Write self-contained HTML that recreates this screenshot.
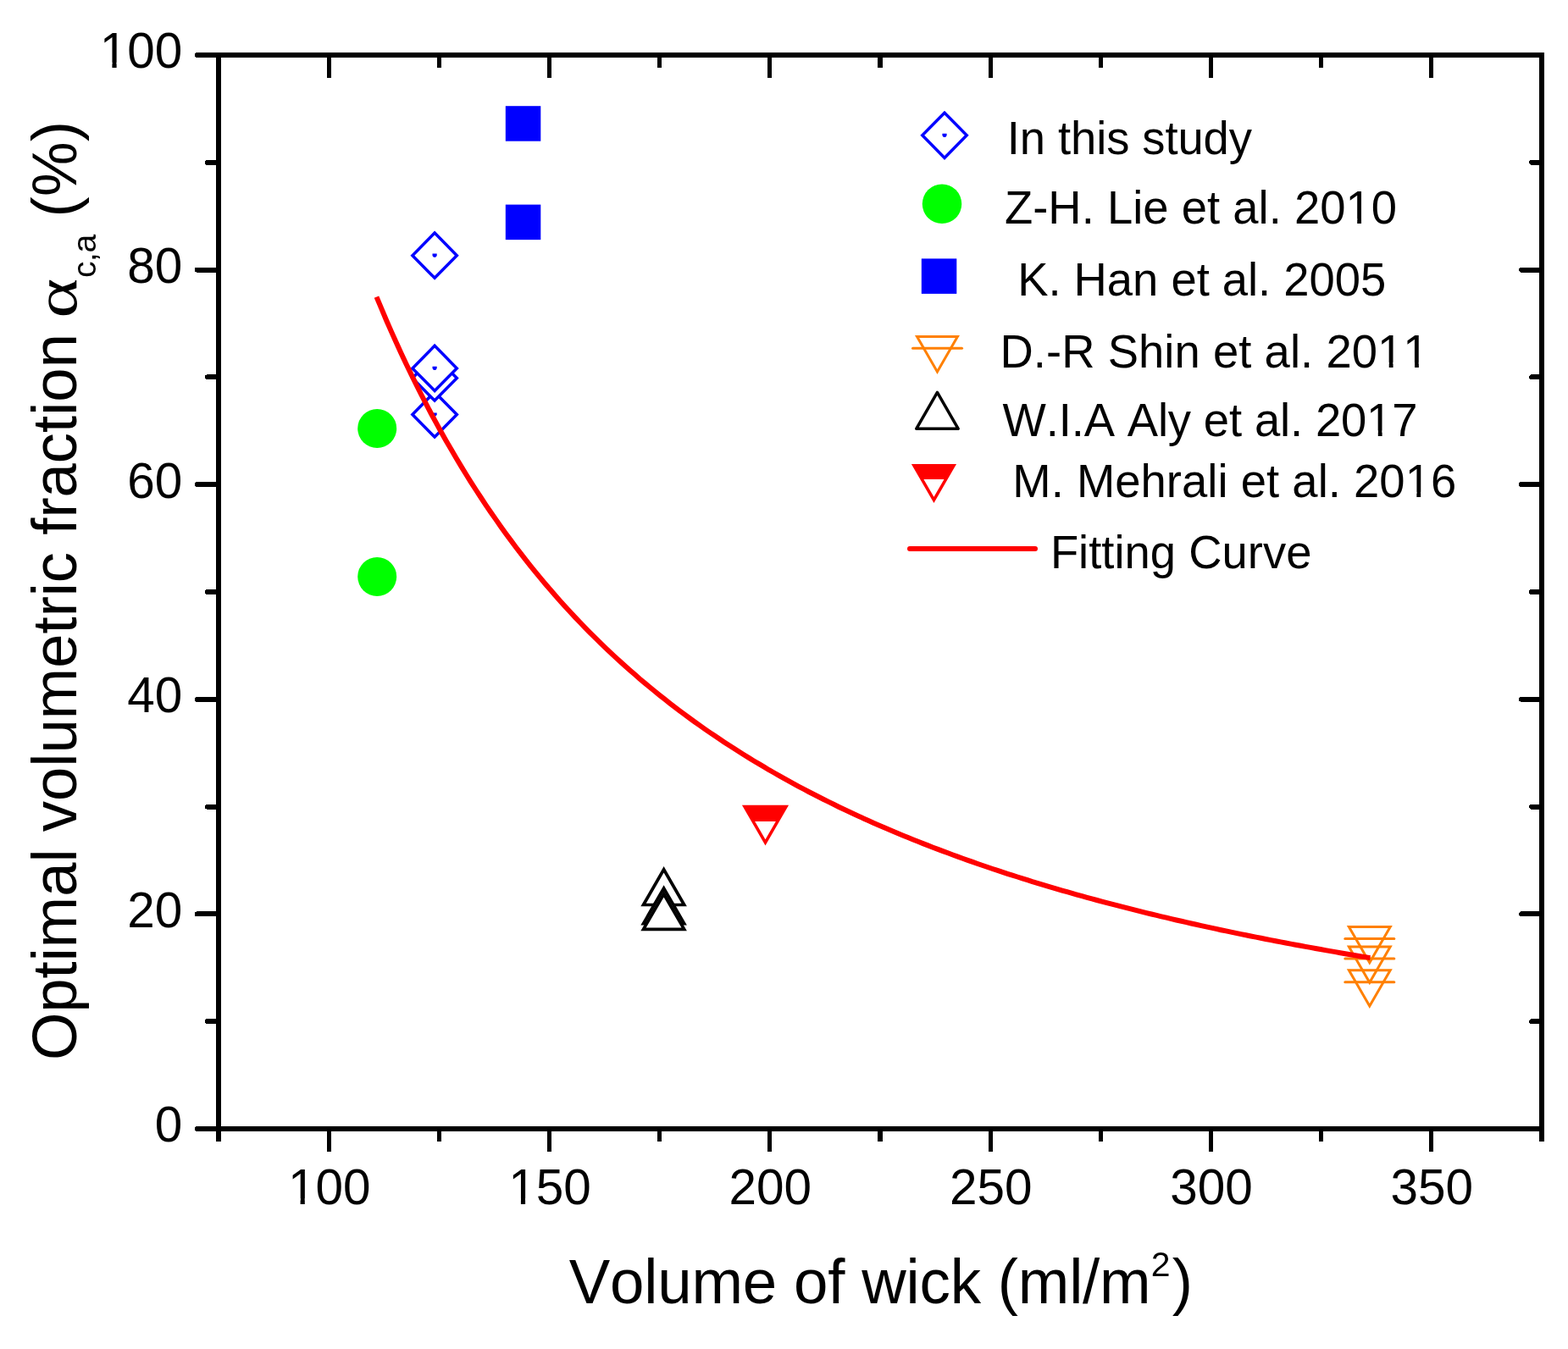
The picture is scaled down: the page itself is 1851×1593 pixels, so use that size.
<!DOCTYPE html>
<html><head><meta charset="utf-8"><title>Optimal volumetric fraction vs volume of wick</title>
<style>html,body{margin:0;padding:0;background:#fff;overflow:hidden}svg{display:block}text{font-family:"Liberation Sans",Arial,sans-serif;fill:#000;font-kerning:none}.sym{font-family:"Liberation Serif","Times New Roman",serif}</style></head><body>
<svg width="1851" height="1593" viewBox="0 0 1851 1593">
<rect width="1851" height="1593" fill="#fff"/>
<path d="M258.0 1333.0H232.8M258.0 1206.2H244.9M258.0 1079.4H232.8M258.0 952.6H244.9M258.0 825.8H232.8M258.0 699.0H244.9M258.0 572.2H232.8M258.0 445.4H244.9M258.0 318.6H232.8M258.0 191.8H244.9M258.0 65.0H232.8M1820.0 1206.2H1808.1M1820.0 1079.4H1796.0M1820.0 952.6H1808.1M1820.0 825.8H1796.0M1820.0 699.0H1808.1M1820.0 572.2H1796.0M1820.0 445.4H1808.1M1820.0 318.6H1796.0M1820.0 191.8H1808.1" stroke="#000" stroke-width="6" stroke-linecap="round" fill="none" shape-rendering="crispEdges"/>
<path d="M258.0 1333.0V1347.9M388.2 1333.0V1360.0M518.3 1333.0V1347.9M648.5 1333.0V1360.0M778.7 1333.0V1347.9M908.8 1333.0V1360.0M1039.0 1333.0V1347.9M1169.2 1333.0V1360.0M1299.3 1333.0V1347.9M1429.5 1333.0V1360.0M1559.7 1333.0V1347.9M1689.8 1333.0V1360.0M1820.0 1333.0V1347.9M388.2 65.0V91.8M518.3 65.0V80.0M648.5 65.0V91.8M778.7 65.0V80.0M908.8 65.0V91.8M1039.0 65.0V80.0M1169.2 65.0V91.8M1299.3 65.0V80.0M1429.5 65.0V91.8M1559.7 65.0V80.0M1689.8 65.0V91.8" stroke="#000" stroke-width="5.2" stroke-linecap="butt" fill="none" shape-rendering="crispEdges"/>
<rect x="258.0" y="65.0" width="1562.0" height="1268.0" fill="none" stroke="#000" stroke-width="6.0" shape-rendering="crispEdges"/>
<text transform="translate(215.3 1348.3) scale(1 1.025)" font-size="58.5" text-anchor="end">0</text>
<text transform="translate(215.3 1094.7) scale(1 1.025)" font-size="58.5" text-anchor="end">20</text>
<text transform="translate(215.3 841.1) scale(1 1.025)" font-size="58.5" text-anchor="end">40</text>
<text transform="translate(215.3 587.5) scale(1 1.025)" font-size="58.5" text-anchor="end">60</text>
<text transform="translate(215.3 333.9) scale(1 1.025)" font-size="58.5" text-anchor="end">80</text>
<g transform="translate(215.3 80.3) scale(1 1.025)"><text id="t1" font-size="58.5" text-anchor="end">100</text><g fill="#fff"><rect x="-94.33" y="-6.37" width="11.45" height="7.57"/><rect x="-77.70" y="-6.37" width="11.00" height="7.57"/></g></g>
<g transform="translate(388.7 1421.6) scale(1 1.025)"><text id="t2" font-size="58.5" text-anchor="middle">100</text><g fill="#fff"><rect x="-45.54" y="-6.37" width="11.45" height="7.57"/><rect x="-28.91" y="-6.37" width="11.00" height="7.57"/></g></g>
<g transform="translate(649.0 1421.6) scale(1 1.025)"><text id="t3" font-size="58.5" text-anchor="middle">150</text><g fill="#fff"><rect x="-45.54" y="-6.37" width="11.45" height="7.57"/><rect x="-28.91" y="-6.37" width="11.00" height="7.57"/></g></g>
<text transform="translate(909.3 1421.6) scale(1 1.025)" font-size="58.5" text-anchor="middle">200</text>
<text transform="translate(1169.7 1421.6) scale(1 1.025)" font-size="58.5" text-anchor="middle">250</text>
<text transform="translate(1430.0 1421.6) scale(1 1.025)" font-size="58.5" text-anchor="middle">300</text>
<text transform="translate(1690.3 1421.6) scale(1 1.025)" font-size="58.5" text-anchor="middle">350</text>
<text transform="translate(671.80 1538.90) scale(1 1.01)" font-size="72.7" textLength="686.84" lengthAdjust="spacing">Volume of wick (ml/m</text>
<text transform="translate(1358.70 1506.70) scale(1 1.01)" font-size="41">2</text>
<text transform="translate(1383.70 1538.90) scale(1 1.01)" font-size="72.7">)</text>
<text transform="rotate(-90) translate(-1252.10 90.00) scale(1 1.01)" font-size="72.5" textLength="858.09" lengthAdjust="spacing">Optimal volumetric fraction</text>
<text class="sym" transform="rotate(-90) translate(0 90.3) scale(1.2118 0.9500)" x="-310.07" y="0" font-size="74">α</text>
<text transform="rotate(-90) translate(-327.90 112.90) scale(1 1.01)" font-size="39" textLength="51.03" lengthAdjust="spacing">c,a</text>
<text transform="rotate(-90) translate(-256.60 90.00) scale(1 1.01)" font-size="72.5" textLength="113.47" lengthAdjust="spacing">(%)</text>
<path d="M513.1 275.1L539.3 301.7L513.1 328.3L486.9 301.7Z" fill="#fff" stroke="#0000ff" stroke-width="3.5"/><path d="M510.5 299.6H515.7V301.9L514.3 303.8H511.9L510.5 301.9Z" fill="#0000ff"/>
<path d="M513.1 462.9L539.3 489.5L513.1 516.1L486.9 489.5Z" fill="#fff" stroke="#0000ff" stroke-width="3.5"/><path d="M510.5 487.4H515.7V489.7L514.3 491.6H511.9L510.5 489.7Z" fill="#0000ff"/>
<path d="M513.1 419.9L539.3 446.5L513.1 473.1L486.9 446.5Z" fill="#fff" stroke="#0000ff" stroke-width="3.5"/><path d="M510.5 444.4H515.7V446.7L514.3 448.6H511.9L510.5 446.7Z" fill="#0000ff"/>
<path d="M513.1 408.3L539.3 434.9L513.1 461.5L486.9 434.9Z" fill="#fff" stroke="#0000ff" stroke-width="3.5"/><path d="M510.5 432.8H515.7V435.1L514.3 437.0H511.9L510.5 435.1Z" fill="#0000ff"/>
<circle cx="445.2" cy="505.9" r="23.0" fill="#00ff00"/>
<circle cx="445.2" cy="680.9" r="23.0" fill="#00ff00"/>
<rect x="596.8" y="125.2" width="41.5" height="41.5" fill="#0000ff"/>
<rect x="596.8" y="241.6" width="41.5" height="41.5" fill="#0000ff"/>
<path d="M783.60 1026.80L807.68 1068.50L759.52 1068.50Z" fill="#fff" stroke="#000" stroke-width="3.7" stroke-linejoin="miter"/>
<path d="M783.60 1048.90L807.68 1090.60L759.52 1090.60Z" fill="#fff" stroke="#000" stroke-width="3.7" stroke-linejoin="miter"/>
<path d="M783.60 1055.70L807.68 1097.40L759.52 1097.40Z" fill="#fff" stroke="#000" stroke-width="3.7" stroke-linejoin="miter"/>
<clipPath id="rc1"><rect x="863.5" y="926.7" width="80" height="43.3"/></clipPath><path d="M879.05 952.58L927.95 952.58L903.50 994.93Z" fill="#ff0000" clip-path="url(#rc1)"/><path d="M879.05 952.58L927.95 952.58L903.50 994.93Z" fill="none" stroke="#ff0000" stroke-width="3.6"/>
<path d="M1592.40 1094.41L1641.20 1094.41L1616.80 1136.67Z" fill="none" stroke="#ff8000" stroke-width="3.0"/><path d="M1587.8 1108.5H1645.8" stroke="#ff8000" stroke-width="3" stroke-linecap="round"/>
<path d="M1592.40 1117.91L1641.20 1117.91L1616.80 1160.17Z" fill="none" stroke="#ff8000" stroke-width="3.0"/><path d="M1587.8 1132.0H1645.8" stroke="#ff8000" stroke-width="3" stroke-linecap="round"/>
<path d="M1592.40 1145.71L1641.20 1145.71L1616.80 1187.97Z" fill="none" stroke="#ff8000" stroke-width="3.0"/><path d="M1587.8 1159.8H1645.8" stroke="#ff8000" stroke-width="3" stroke-linecap="round"/>
<polyline points="444.5,350.7 450.4,364.7 456.2,378.5 462.1,391.9 468.0,404.9 473.8,417.7 479.7,430.2 485.6,442.4 491.4,454.3 497.3,466.0 503.2,477.3 509.0,488.5 514.9,499.4 520.7,510.0 526.6,520.4 532.5,530.6 538.3,540.6 544.2,550.4 550.1,560.0 555.9,569.3 561.8,578.5 567.7,587.5 573.5,596.3 579.4,605.0 585.3,613.4 591.1,621.7 597.0,629.9 602.9,637.9 608.7,645.7 614.6,653.4 620.4,660.9 626.3,668.3 632.2,675.6 638.0,682.7 643.9,689.7 649.8,696.5 655.6,703.3 661.5,709.9 667.4,716.4 673.2,722.8 679.1,729.1 685.0,735.3 690.8,741.3 696.7,747.3 702.6,753.1 708.4,758.9 714.3,764.6 720.1,770.1 726.0,775.6 731.9,781.0 737.7,786.3 743.6,791.5 749.5,796.6 755.3,801.7 761.2,806.6 767.1,811.5 772.9,816.3 778.8,821.1 784.7,825.7 790.5,830.3 796.4,834.8 802.3,839.3 808.1,843.7 814.0,848.0 819.8,852.2 825.7,856.4 831.6,860.6 837.4,864.6 843.3,868.6 849.2,872.6 855.0,876.5 860.9,880.3 866.8,884.1 872.6,887.8 878.5,891.5 884.4,895.1 890.2,898.7 896.1,902.2 902.0,905.7 907.8,909.2 913.7,912.5 919.6,915.9 925.4,919.2 931.3,922.4 937.1,925.6 943.0,928.8 948.9,931.9 954.7,935.0 960.6,938.0 966.5,941.0 972.3,944.0 978.2,946.9 984.1,949.8 989.9,952.7 995.8,955.5 1001.7,958.3 1007.5,961.0 1013.4,963.7 1019.3,966.4 1025.1,969.0 1031.0,971.7 1036.8,974.2 1042.7,976.8 1048.6,979.3 1054.4,981.8 1060.3,984.3 1066.2,986.7 1072.0,989.1 1077.9,991.5 1083.8,993.8 1089.6,996.1 1095.5,998.4 1101.4,1000.7 1107.2,1002.9 1113.1,1005.1 1119.0,1007.3 1124.8,1009.5 1130.7,1011.6 1136.5,1013.7 1142.4,1015.8 1148.3,1017.9 1154.1,1020.0 1160.0,1022.0 1165.9,1024.0 1171.7,1026.0 1177.6,1027.9 1183.5,1029.9 1189.3,1031.8 1195.2,1033.7 1201.1,1035.5 1206.9,1037.4 1212.8,1039.2 1218.7,1041.1 1224.5,1042.8 1230.4,1044.6 1236.2,1046.4 1242.1,1048.1 1248.0,1049.9 1253.8,1051.6 1259.7,1053.2 1265.6,1054.9 1271.4,1056.6 1277.3,1058.2 1283.2,1059.8 1289.0,1061.4 1294.9,1063.0 1300.8,1064.6 1306.6,1066.2 1312.5,1067.7 1318.4,1069.2 1324.2,1070.7 1330.1,1072.2 1336.0,1073.7 1341.8,1075.2 1347.7,1076.7 1353.5,1078.1 1359.4,1079.5 1365.3,1080.9 1371.1,1082.3 1377.0,1083.7 1382.9,1085.1 1388.7,1086.5 1394.6,1087.8 1400.5,1089.1 1406.3,1090.5 1412.2,1091.8 1418.1,1093.1 1423.9,1094.4 1429.8,1095.6 1435.7,1096.9 1441.5,1098.2 1447.4,1099.4 1453.2,1100.6 1459.1,1101.9 1465.0,1103.1 1470.8,1104.3 1476.7,1105.5 1482.6,1106.6 1488.4,1107.8 1494.3,1109.0 1500.2,1110.1 1506.0,1111.2 1511.9,1112.4 1517.8,1113.5 1523.6,1114.6 1529.5,1115.7 1535.4,1116.8 1541.2,1117.9 1547.1,1118.9 1552.9,1120.0 1558.8,1121.0 1564.7,1122.1 1570.5,1123.1 1576.4,1124.1 1582.3,1125.2 1588.1,1126.2 1594.0,1127.2 1599.9,1128.2 1605.7,1129.2 1611.6,1130.1 1617.5,1131.1" fill="none" stroke="#ff0000" stroke-width="6" stroke-linejoin="round"/>
<path d="M1115.0 133.2L1141.2 159.8L1115.0 186.4L1088.8 159.8Z" fill="#fff" stroke="#0000ff" stroke-width="3.5"/><path d="M1112.4 157.7H1117.6V160.0L1116.2 161.9H1113.8L1112.4 160.0Z" fill="#0000ff"/>
<circle cx="1112.0" cy="240.8" r="23.25" fill="#00ff00"/>
<rect x="1087.8" y="305.4" width="41.5" height="41.5" fill="#0000ff"/>
<path d="M1082.55 397.50L1130.35 397.50L1106.45 438.90Z" fill="none" stroke="#ff8000" stroke-width="3.0"/><path d="M1077.5 411.3H1135.5" stroke="#ff8000" stroke-width="3" stroke-linecap="round"/>
<path d="M1106.45 463.42L1131.20 506.29L1081.70 506.29Z" fill="#fff" stroke="#000" stroke-width="3.5" stroke-linejoin="round"/>
<clipPath id="rc2"><rect x="1062.5" y="523.4" width="80" height="42.6"/></clipPath><path d="M1079.00 549.86L1125.90 549.86L1102.45 590.48Z" fill="#ff0000" clip-path="url(#rc2)"/><path d="M1079.00 549.86L1125.90 549.86L1102.45 590.48Z" fill="none" stroke="#ff0000" stroke-width="3.6"/>
<path d="M1074 647.9H1222" stroke="#ff0000" stroke-width="6" stroke-linecap="round"/>
<text transform="translate(1188.80 181.50) scale(1 1.01)" font-size="54.4" textLength="289.13" lengthAdjust="spacing">In this study</text>
<g transform="translate(1186.00 264.30) scale(1 1.01)"><text id="t4" font-size="54.4" textLength="463.06" lengthAdjust="spacing">Z-H. Lie et al. 2010</text><g fill="#fff"><rect x="405.47" y="-6.06" width="10.74" height="7.26"/><rect x="421.02" y="-6.06" width="10.31" height="7.26"/></g></g>
<text transform="translate(1201.20 349.00) scale(1 1.01)" font-size="54.4" textLength="435.02" lengthAdjust="spacing">K. Han et al. 2005</text>
<g transform="translate(1180.50 434.00) scale(1 1.01)"><text id="t5" font-size="54.4" textLength="506.12" lengthAdjust="spacing">D.-R Shin et al. 2011</text><g fill="#fff"><rect x="448.50" y="-6.06" width="10.74" height="7.26"/><rect x="464.04" y="-6.06" width="10.31" height="7.26"/><rect x="478.81" y="-6.06" width="10.74" height="7.26"/><rect x="494.35" y="-6.06" width="10.31" height="7.26"/></g></g>
<g transform="translate(1183.60 514.50) scale(1 1.01)"><text id="t6" font-size="54.4" textLength="489.87" lengthAdjust="spacing">W.I.A Aly et al. 2017</text><g fill="#fff"><rect x="432.45" y="-6.06" width="10.74" height="7.26"/><rect x="448.00" y="-6.06" width="10.31" height="7.26"/></g></g>
<g transform="translate(1195.30 587.00) scale(1 1.01)"><text id="t7" font-size="54.4" textLength="523.92" lengthAdjust="spacing">M. Mehrali et al. 2016</text><g fill="#fff"><rect x="466.31" y="-6.06" width="10.74" height="7.26"/><rect x="481.86" y="-6.06" width="10.31" height="7.26"/></g></g>
<text transform="translate(1239.90 670.80) scale(1 1.01)" font-size="54.4" textLength="308.51" lengthAdjust="spacing">Fitting Curve</text>
</svg></body></html>
